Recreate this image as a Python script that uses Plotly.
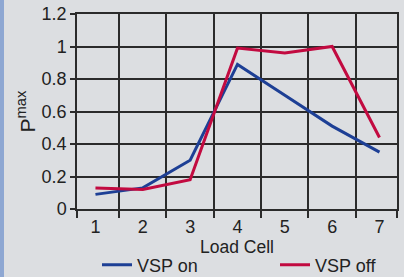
import plotly.graph_objects as go

cells = [1, 2, 3, 4, 5, 6, 7]
cell_labels = ["1", "2", "3", "4", "5", "6", "7"]
vsp_on = [0.09, 0.13, 0.30, 0.89, 0.70, 0.51, 0.35]
vsp_off = [0.13, 0.12, 0.18, 0.99, 0.96, 1.0, 0.44]
y_ticks = [0, 0.2, 0.4, 0.6, 0.8, 1.0, 1.2]
y_tick_labels = ["0", "0.2", "0.4", "0.6", "0.8", "1", "1.2"]

BG = "#dcdee1"
GRID = "#2b2b2b"
FONT = "Liberation Sans, Arial, sans-serif"

L, R, T, B = 77, 7, 14, 68
W, H = 404, 277
pw = W - L - R
ph = H - T - B

fig = go.Figure()
fig.add_trace(go.Scatter(x=cells, y=vsp_on, mode="lines", name="VSP on",
                         line=dict(color="#1d3f95", width=3), legend="legend"))
fig.add_trace(go.Scatter(x=cells, y=vsp_off, mode="lines", name="VSP off",
                         line=dict(color="#c20a40", width=3), legend="legend2"))

leg_common = dict(orientation="h", xanchor="left", yanchor="middle",
                  y=-(265 - (H - B)) / ph, font=dict(size=18, color="#222"),
                  bgcolor="rgba(0,0,0,0)", itemwidth=30)

fig.update_layout(
    width=W, height=H,
    margin=dict(l=L, r=R, t=T, b=B, pad=0, autoexpand=False),
    paper_bgcolor=BG, plot_bgcolor=BG,
    font=dict(family=FONT, size=18, color="#222"),
    showlegend=True,
    legend=dict(x=(97 - L) / pw, **leg_common),
    legend2=dict(x=(275 - L) / pw, **leg_common),
    shapes=[dict(type="rect", xref="paper", yref="paper",
                 x0=-L / pw, x1=(4 - L) / pw, y0=-1, y1=2,
                 fillcolor="#8ea7d2", line=dict(width=0), layer="below")],
)

fig.update_xaxes(
    range=[0.61, 7.37], tickmode="array", tickvals=cells, ticktext=cell_labels,
    ticks="outside", ticklen=1, tickcolor="rgba(0,0,0,0)",
    showgrid=False, zeroline=False,
    showline=True, linecolor=GRID, linewidth=1.5, mirror=True,
    minor=dict(tickmode="array", tickvals=[0.61, 1.5, 2.5, 3.5, 4.5, 5.5, 6.5, 7.37],
               ticks="outside", ticklen=7, tickwidth=1.5, tickcolor=GRID,
               showgrid=True, gridcolor=GRID, gridwidth=1.5),
    title=dict(text="Load Cell", standoff=3, font=dict(size=17.5)),
    tickfont=dict(size=18),
    fixedrange=True,
)
fig.update_yaxes(
    range=[0, 1.2], tickmode="array", tickvals=y_ticks, ticktext=y_tick_labels,
    ticks="outside", ticklen=5, tickwidth=1.5, tickcolor=GRID,
    showgrid=True, gridcolor=GRID, gridwidth=1.5, zeroline=False,
    showline=True, linecolor=GRID, linewidth=1.5, mirror=True,
    title=dict(text="P<sup>max</sup>", standoff=0, font=dict(size=21)),
    tickfont=dict(size=18),
    fixedrange=True,
)

fig.write_html(
    "out.html",
    config={"displayModeBar": False},
    post_script="document.body.style.margin='0';document.body.style.background='%s';" % BG,
)
